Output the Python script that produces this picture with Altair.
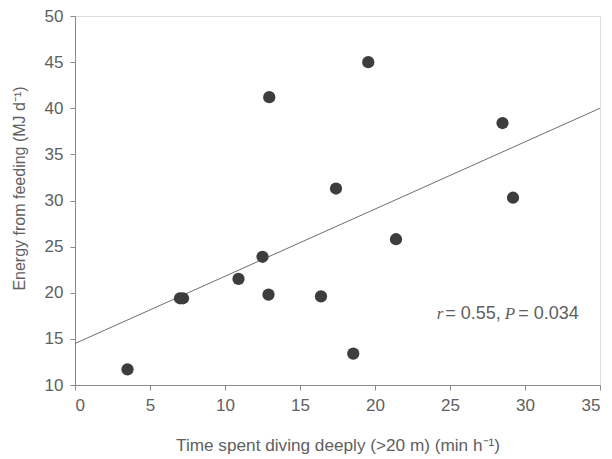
import altair as alt
import pandas as pd

# data
time_deep = [3.5, 7.0, 7.2, 10.9, 12.5, 12.9, 12.95, 16.4, 17.4, 18.55, 19.55, 21.4, 28.5, 29.2]
energy = [11.7, 19.4, 19.4, 21.5, 23.9, 19.8, 41.2, 19.6, 31.3, 13.4, 45.0, 25.8, 38.4, 30.3]

fit_x = [0, 35]
fit_y = [14.5, 40.0]

ann_text = ["r", "= 0.55,", "P", "= 0.034"]
ann_x = [24.11, 24.68, 28.65, 29.55]
ann_y = [17.7, 17.7, 17.7, 17.7]
ann_italic = [True, False, True, False]

pts = pd.DataFrame({"x": time_deep, "y": energy})
fit = pd.DataFrame({"x": fit_x, "y": fit_y})
ann = pd.DataFrame({"t": ann_text, "x": ann_x, "y": ann_y, "it": ann_italic})

TXT = "#606060"
AX = "#8a8a8a"

xscale = alt.Scale(domain=[0, 35], nice=False, zero=False)
yscale = alt.Scale(domain=[10, 50], nice=False, zero=False)

xaxis = alt.Axis(
    title="Time spent diving deeply (>20 m) (min h⁻¹)",
    values=[0, 5, 10, 15, 20, 25, 30, 35],
    grid=False, tickSize=5, labelPadding=7, labelFontSize=17,
    titleFontSize=17.2, titleFontWeight="normal", titleY=60, titleBaseline="middle",
    domainColor=AX, tickColor=AX, labelColor=TXT, titleColor=TXT,
    labelFont="Liberation Sans", titleFont="Liberation Sans",
)
yaxis = alt.Axis(
    title="Energy from feeding (MJ d⁻¹)",
    values=[10, 15, 20, 25, 30, 35, 40, 45, 50],
    grid=False, tickSize=5, labelPadding=7, labelFontSize=17,
    titleFontSize=16, titleFontWeight="normal", titleX=-56, titleY=172,
    titleBaseline="middle", titleAngle=-90,
    domainColor=AX, tickColor=AX, labelColor=TXT, titleColor=TXT,
    labelFont="Liberation Sans", titleFont="Liberation Sans",
)

points = alt.Chart(pts).mark_circle(size=150, color="#3d3d3d", opacity=1).encode(
    x=alt.X("x:Q", scale=xscale, axis=xaxis),
    y=alt.Y("y:Q", scale=yscale, axis=yaxis),
)

line = alt.Chart(fit).mark_line(color="#6e6e6e", strokeWidth=1).encode(
    x=alt.X("x:Q", scale=xscale),
    y=alt.Y("y:Q", scale=yscale),
)

ann_it = alt.Chart(ann[ann["it"]]).mark_text(
    align="left", baseline="middle", font="Liberation Serif", fontStyle="italic",
    fontSize=17, color=TXT,
).encode(x=alt.X("x:Q", scale=xscale), y=alt.Y("y:Q", scale=yscale), text="t:N")

ann_rm = alt.Chart(ann[~ann["it"]]).mark_text(
    align="left", baseline="middle", font="Liberation Sans",
    fontSize=18, color=TXT,
).encode(x=alt.X("x:Q", scale=xscale), y=alt.Y("y:Q", scale=yscale), text="t:N")

chart = alt.layer(line, points, ann_it, ann_rm).properties(
    width=525, height=369,
    autosize=alt.AutoSizeParams(type="none"),
    padding={"left": 67, "top": 8, "right": 4, "bottom": 72},
).configure_view(stroke=AX, strokeWidth=1).configure(background="white")

chart.save("out.html", embed_options={"renderer": "svg", "actions": False})
